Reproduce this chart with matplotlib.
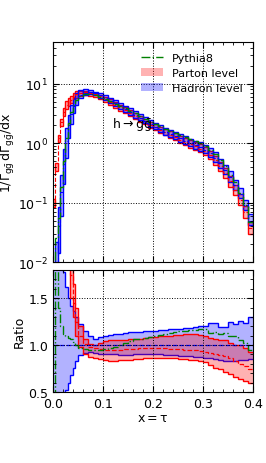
import numpy as np
import matplotlib
matplotlib.use("Agg")
import matplotlib.pyplot as plt
from matplotlib.patches import Patch
from matplotlib.lines import Line2D
from matplotlib.ticker import MultipleLocator

# bin edges: fine bins up to 0.05, then 0.01
edges = np.concatenate([np.arange(0.0, 0.05, 0.005), np.arange(0.05, 0.4001, 0.01)])

# hadron level central value, 1/G dG/dx
hadron = [0.004, 0.01, 0.04, 0.15, 0.45, 1.1, 2.0, 3.1, 4.2, 5.3,
          6.4, 7.1, 7.2, 6.9, 6.4, 5.8, 5.2, 4.7, 4.2, 3.8,
          3.4, 3.0, 2.7, 2.4, 2.1, 1.9, 1.72, 1.57, 1.43, 1.32,
          1.2, 1.1, 1.0, 0.93, 0.86, 0.78, 0.68, 0.57, 0.46, 0.36,
          0.27, 0.2, 0.14, 0.09, 0.05]
# hadron band, ratio to hadron central
had_up = [2.2, 2.2, 2.1, 1.95, 1.78, 1.62, 1.5, 1.42, 1.36, 1.3,
          1.22, 1.15, 1.1, 1.07, 1.09, 1.1, 1.11, 1.12, 1.12, 1.13,
          1.14, 1.14, 1.14, 1.15, 1.15, 1.15, 1.16, 1.16, 1.17, 1.17,
          1.17, 1.18, 1.18, 1.19, 1.2, 1.2, 1.23, 1.24, 1.19, 1.19,
          1.25, 1.22, 1.26, 1.24, 1.3]
had_lo = [0.3, 0.3, 0.35, 0.4, 0.45, 0.52, 0.6, 0.68, 0.76, 0.83,
          0.89, 0.92, 0.93, 0.92, 0.91, 0.9, 0.9, 0.9, 0.89, 0.89,
          0.89, 0.9, 0.9, 0.9, 0.9, 0.9, 0.9, 0.89, 0.89, 0.89,
          0.88, 0.88, 0.88, 0.87, 0.87, 0.86, 0.86, 0.85, 0.84, 0.83,
          0.83, 0.83, 0.84, 0.84, 0.85]
# parton level, ratio to hadron central
parton = [25, 40, 30, 15, 7.5, 4.0, 2.5, 1.75, 1.45, 1.25,
          1.1, 1.01, 0.98, 0.97, 0.96, 0.95, 0.95, 0.95, 0.95, 0.96,
          0.96, 0.96, 0.97, 0.97, 0.97, 0.97, 0.97, 0.97, 0.96, 0.96,
          0.96, 0.95, 0.95, 0.95, 0.94, 0.93, 0.92, 0.9, 0.89, 0.88,
          0.86, 0.83, 0.8, 0.78, 0.75]
par_up = [29, 46, 34, 17, 8.6, 4.6, 2.9, 2.0, 1.65, 1.4,
          1.2, 1.07, 1.01, 1.0, 1.02, 1.04, 1.05, 1.05, 1.05, 1.05,
          1.06, 1.07, 1.07, 1.08, 1.09, 1.09, 1.1, 1.1, 1.1, 1.11,
          1.11, 1.12, 1.12, 1.12, 1.11, 1.1, 1.08, 1.07, 1.05, 1.05,
          1.02, 1.0, 1.0, 0.97, 0.93]
par_lo = [21, 34, 26, 13, 6.4, 3.4, 2.1, 1.5, 1.3, 1.1,
          0.98, 0.91, 0.87, 0.86, 0.85, 0.84, 0.83, 0.83, 0.84, 0.84,
          0.84, 0.85, 0.85, 0.86, 0.86, 0.86, 0.86, 0.86, 0.86, 0.86,
          0.85, 0.85, 0.84, 0.84, 0.83, 0.82, 0.79, 0.76, 0.74, 0.71,
          0.69, 0.66, 0.64, 0.62, 0.6]
# Pythia8, ratio to hadron central
pythia = [0.3, 2.5, 1.4, 1.2, 1.12, 1.1, 1.08, 1.06, 1.03, 1.0,
          0.97, 0.96, 0.95, 0.95, 0.95, 0.96, 0.97, 0.98, 1.0, 1.02,
          1.04, 1.06, 1.07, 1.08, 1.09, 1.1, 1.11, 1.12, 1.13, 1.14,
          1.15, 1.15, 1.16, 1.16, 1.17, 1.17, 1.13, 1.14, 1.12, 1.13,
          1.1, 1.1, 1.05, 1.02, 0.95]

hadron = np.array(hadron)
had_up, had_lo = np.array(had_up), np.array(had_lo)
parton, par_up, par_lo = np.array(parton), np.array(par_up), np.array(par_lo)
pythia = np.array(pythia)
widths = np.diff(edges)

fig = plt.figure(figsize=(2.66, 4.64), dpi=100)
ax1 = fig.add_axes([0.199, 0.433, 0.752, 0.474])
ax2 = fig.add_axes([0.199, 0.153, 0.752, 0.263], sharex=ax1)

# top panel: boxes per bin
ax1.bar(edges[:-1], hadron * (par_up - par_lo), bottom=hadron * par_lo, width=widths,
        align="edge", facecolor=(1, 0, 0, 0.3), edgecolor="red", linewidth=1.0)
ax1.bar(edges[:-1], hadron * (had_up - had_lo), bottom=hadron * had_lo, width=widths,
        align="edge", facecolor=(0, 0, 1, 0.3), edgecolor="blue", linewidth=1.0)
ax1.stairs(hadron * parton, edges, baseline=None, color="red", ls="--", lw=0.8)
ax1.stairs(hadron, edges, baseline=None, color="blue", ls="--", lw=0.8)
ax1.stairs(hadron * pythia, edges, baseline=None, color="green", ls="-.", lw=1.0)
ax1.set_yscale("log")
ax1.set_ylim(0.01, 50)
ax1.set_xlim(0, 0.4)
ax1.set_ylabel(r"$\mathrm{1/\Gamma_{g\bar{g}}\,d\Gamma_{g\bar{g}}/dx}$", fontsize=9)
ax1.yaxis.set_label_coords(-0.18, 0.5)
ax1.text(0.118, 1.9, r"$\mathrm{h \rightarrow g\bar{g}}$", fontsize=9)
handles = [Line2D([], [], color="green", ls="-.", lw=1.0),
           Patch(facecolor=(1, 0, 0, 0.3), edgecolor="none"),
           Patch(facecolor=(0, 0, 1, 0.3), edgecolor="none")]
ax1.legend(handles, ["Pythia8", "Parton level", "Hadron level"], loc="upper right",
           fontsize=8, frameon=False, handlelength=2.0, borderaxespad=0.55, labelspacing=0.45)
plt.setp(ax1.get_xticklabels(), visible=False)

# ratio panel
ax2.stairs(had_up, edges, baseline=had_lo, fill=True, color=(0, 0, 1, 0.3), lw=0)
ax2.stairs(had_up, edges, baseline=None, color="blue", lw=1.0)
ax2.stairs(had_lo, edges, baseline=None, color="blue", lw=1.0)
ax2.stairs(par_up, edges, baseline=par_lo, fill=True, color=(1, 0, 0, 0.3), lw=0)
ax2.stairs(par_up, edges, baseline=None, color="red", lw=1.0)
ax2.stairs(par_lo, edges, baseline=None, color="red", lw=1.0)
ax2.stairs(parton, edges, baseline=None, color="red", ls="--", lw=0.9)
ax2.stairs(np.ones_like(hadron), edges, baseline=None, color="blue", ls="--", lw=0.9)
ax2.stairs(pythia, edges, baseline=None, color="green", ls="-.", lw=1.0)
ax2.set_ylim(0.5, 1.8)
ax2.set_xlim(0, 0.4)
ax2.set_ylabel("Ratio", fontsize=9, labelpad=2)
ax2.set_xlabel(r"$\mathrm{x = \tau}$", fontsize=9, labelpad=1)
ax2.yaxis.set_major_locator(MultipleLocator(0.5))
ax2.yaxis.set_minor_locator(MultipleLocator(0.1))
ax2.xaxis.set_major_locator(MultipleLocator(0.1))
ax2.xaxis.set_minor_locator(MultipleLocator(0.02))

for ax in (ax1, ax2):
    ax.tick_params(which="both", direction="in", top=True, right=True, labelsize=9)
    ax.tick_params(which="major", length=4)
    ax.tick_params(which="minor", length=2)
    ax.grid(True, which="major", color="black", ls=":", lw=0.7)

fig.savefig("out.png", dpi=100)
